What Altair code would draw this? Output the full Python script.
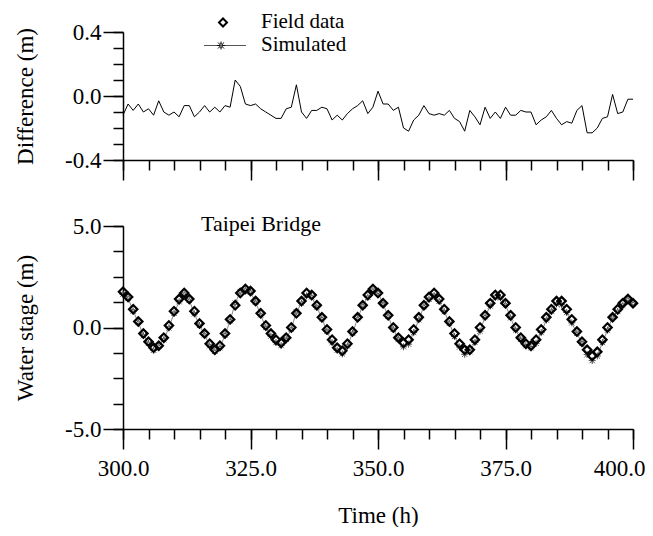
import altair as alt
import pandas as pd

# ---------------- data ----------------
hours = list(range(300, 401))

difference = [
    -0.12, -0.05, -0.09, -0.05, -0.10, -0.08, -0.12, -0.03, -0.10, -0.12,
    -0.10, -0.13, -0.06, -0.06, -0.13, -0.10, -0.06, -0.10, -0.07, -0.10,
    -0.06, -0.07, 0.10, 0.06, -0.05, -0.06, -0.05, -0.08, -0.10, -0.12,
    -0.14, -0.14, -0.08, -0.07, 0.07, -0.10, -0.14, -0.09, -0.09, -0.07,
    -0.08, -0.15, -0.12, -0.15, -0.11, -0.08, -0.06, -0.03, -0.11, -0.07,
    0.03, -0.05, -0.05, -0.09, -0.07, -0.20, -0.22, -0.15, -0.12, -0.06,
    -0.11, -0.12, -0.11, -0.12, -0.09, -0.14, -0.16, -0.22, -0.09, -0.13,
    -0.18, -0.07, -0.14, -0.10, -0.14, -0.07, -0.12, -0.12, -0.09, -0.10,
    -0.10, -0.18, -0.15, -0.13, -0.09, -0.14, -0.18, -0.16, -0.17, -0.09,
    -0.06, -0.23, -0.23, -0.20, -0.14, -0.13, 0.01, -0.11, -0.10, -0.02,
    -0.02,
]

field_stage = [
    1.76, 1.50, 0.90, 0.30, -0.30, -0.70, -1.00, -0.90, -0.50, 0.10,
    0.80, 1.40, 1.70, 1.40, 0.80, 0.20, -0.30, -0.80, -1.10, -0.90,
    -0.30, 0.40, 1.10, 1.70, 1.90, 1.80, 1.30, 0.70, 0.10, -0.30,
    -0.60, -0.75, -0.50, 0.00, 0.70, 1.30, 1.70, 1.60, 1.10, 0.50,
    -0.10, -0.60, -1.00, -1.15, -0.80, -0.20, 0.50, 1.10, 1.60, 1.90,
    1.70, 1.20, 0.60, 0.00, -0.50, -0.75, -0.60, -0.10, 0.50, 1.10,
    1.50, 1.70, 1.40, 0.90, 0.30, -0.30, -0.80, -1.10, -1.10, -0.60,
    0.00, 0.60, 1.20, 1.60, 1.60, 1.20, 0.60, 0.00, -0.50, -0.80,
    -0.90, -0.60, -0.10, 0.50, 0.90, 1.30, 1.30, 0.90, 0.40, -0.20,
    -0.70, -1.10, -1.40, -1.20, -0.60, 0.00, 0.50, 0.90, 1.20, 1.40,
    1.20,
]

simulated_stage = [
    1.64, 1.45, 0.81, 0.25, -0.40, -0.78, -1.12, -0.93, -0.60, -0.02,
    0.70, 1.27, 1.64, 1.34, 0.67, 0.10, -0.36, -0.90, -1.17, -1.00,
    -0.36, 0.33, 1.20, 1.76, 1.85, 1.74, 1.25, 0.62, 0.00, -0.42,
    -0.74, -0.89, -0.58, -0.07, 0.77, 1.20, 1.56, 1.51, 1.01, 0.43,
    -0.18, -0.75, -1.12, -1.30, -0.91, -0.28, 0.44, 1.07, 1.49, 1.83,
    1.73, 1.15, 0.55, -0.09, -0.57, -0.95, -0.82, -0.25, 0.38, 1.04,
    1.39, 1.58, 1.29, 0.78, 0.21, -0.44, -0.96, -1.32, -1.19, -0.73,
    -0.18, 0.53, 1.06, 1.50, 1.46, 1.13, 0.48, -0.12, -0.59, -0.90,
    -1.00, -0.78, -0.25, 0.37, 0.81, 1.16, 1.12, 0.74, 0.23, -0.29,
    -0.76, -1.33, -1.63, -1.40, -0.74, -0.13, 0.51, 0.79, 1.10, 1.38,
    1.18,
]

time_major = [300, 325, 350, 375, 400]
time_minor = [300, 305, 310, 315, 320, 325, 330, 335, 340, 345, 350,
              355, 360, 365, 370, 375, 380, 385, 390, 395, 400]
diff_major = [-0.4, 0.0, 0.4]
diff_minor = [-0.4, -0.3, -0.2, -0.1, 0.0, 0.1, 0.2, 0.3, 0.4]
stage_major = [-5.0, 0.0, 5.0]
stage_minor = [-5.0, -3.75, -2.5, -1.25, 0.0, 1.25, 2.5, 3.75, 5.0]

legend_labels = ["Field data", "Simulated"]
station_name = "Taipei Bridge"

# ---------------- styling ----------------
FONT = "Liberation Serif"
TICK_FS = 23
SIGNED = "(datum.value < 0 ? '-' : '') + format(abs(datum.value), '.1f')"
STAR = ("M0.42,0A0.42,0.42,0,1,1,-0.42,0A0.42,0.42,0,1,1,0.42,0Z"
        "M0,-1L0,-0.42M0,0.42L0,1M-1,0L-0.42,0M0.42,0L1,0"
        "M-0.75,-0.75L-0.3,-0.3M0.3,0.3L0.75,0.75"
        "M-0.75,0.75L-0.3,0.3M0.3,-0.3L0.75,-0.75")

common = dict(grid=False, domainColor="black", domainWidth=1.5,
              tickColor="black", tickWidth=1.5, labelFont=FONT,
              labelFontSize=TICK_FS, labelColor="black", labelFlush=False,
              labelOverlap=False, titleFont=FONT, titleFontSize=23,
              titleFontWeight="normal", titleColor="black")


def major_axis(values, orient, **kw):
    return alt.Axis(values=values, tickSize=20, orient=orient, **common, **kw)


def minor_axis(values, orient):
    return alt.Axis(values=values, tickSize=10, labels=False, domain=False,
                    title=None, orient=orient, **common)


df = pd.DataFrame({"t": hours, "diff": difference,
                   "field": field_stage, "sim": simulated_stage})

xs = alt.Scale(domain=[300, 400], nice=False, zero=False)
ys_top = alt.Scale(domain=[-0.4, 0.4], nice=False, zero=False)
ys_bot = alt.Scale(domain=[-5, 5], nice=False, zero=False)

base = alt.Chart(df)

# ---------------- top panel ----------------
diff_line = base.mark_line(color="black", strokeWidth=1).encode(
    x=alt.X("t:Q", scale=xs,
            axis=major_axis(time_major, "bottom", labels=False, title=None)),
    y=alt.Y("diff:Q", scale=ys_top,
            axis=major_axis(diff_major, "left", labelExpr=SIGNED,
                            labelPadding=2, title="Difference (m)",
                            titleX=-98, titleBaseline="middle")),
)
diff_minor_layer = base.mark_point(opacity=0).encode(
    x=alt.X("t:Q", scale=xs, axis=minor_axis(time_minor, "bottom")),
    y=alt.Y("diff:Q", scale=ys_top, axis=minor_axis(diff_minor, "left")),
)

leg_df = pd.DataFrame({"label": legend_labels})
leg_diamond = alt.Chart(leg_df).transform_filter(
    alt.datum.label == legend_labels[0]
).mark_point(shape="diamond", filled=False, size=64, strokeWidth=2,
             opacity=1, color="black").encode(x=alt.value(100),
                                             y=alt.value(-9.5))
leg_line = alt.Chart(leg_df).transform_filter(
    alt.datum.label == legend_labels[1]
).mark_rule(color="#555555", strokeWidth=1).encode(
    x=alt.value(81), x2=alt.value(123), y=alt.value(13.5))
leg_star = alt.Chart(leg_df).transform_filter(
    alt.datum.label == legend_labels[1]
).mark_point(shape=STAR, filled=False, size=64, strokeWidth=1, opacity=1,
             color="black").encode(x=alt.value(98), y=alt.value(13.5))
leg_text1 = alt.Chart(leg_df).transform_filter(
    alt.datum.label == legend_labels[0]
).mark_text(align="left", baseline="alphabetic", font=FONT, fontSize=21,
            color="black").encode(x=alt.value(138), y=alt.value(-4),
                                  text="label:N")
leg_text2 = alt.Chart(leg_df).transform_filter(
    alt.datum.label == legend_labels[1]
).mark_text(align="left", baseline="alphabetic", font=FONT, fontSize=21,
            color="black").encode(x=alt.value(138), y=alt.value(18.5),
                                  text="label:N")

top = alt.layer(
    diff_line, diff_minor_layer, leg_diamond, leg_line, leg_star,
    leg_text1, leg_text2
).resolve_axis(x="independent", y="independent").properties(
    width=510, height=128)

# ---------------- bottom panel ----------------
sim_line = base.mark_line(color="#888888", strokeWidth=1).encode(
    x=alt.X("t:Q", scale=xs,
            axis=major_axis(
                time_major, "bottom",
                labelExpr="format(datum.value, '.1f')",
                labelAlign={"condition": {"test": "datum.value === 400",
                                          "value": "right"},
                            "value": "center"},
                labelOffset={"condition": {"test": "datum.value === 400",
                                           "value": 12},
                             "value": 0},
                labelPadding=8, title="Time (h)", titleY=86,
                titleBaseline="middle")),
    y=alt.Y("sim:Q", scale=ys_bot,
            axis=major_axis(stage_major, "left", labelExpr=SIGNED,
                            labelPadding=2, title="Water stage (m)",
                            titleX=-98, titleBaseline="middle")),
)
sim_pts = base.mark_point(shape=STAR, filled=False, size=49, strokeWidth=1,
                          opacity=1, color="#555555").encode(
    x=alt.X("t:Q", scale=xs, axis=None),
    y=alt.Y("sim:Q", scale=ys_bot, axis=None),
)
field_pts = base.mark_point(shape="diamond", filled=False, size=70,
                            strokeWidth=2.2, opacity=1, color="black").encode(
    x=alt.X("t:Q", scale=xs, axis=None),
    y=alt.Y("field:Q", scale=ys_bot, axis=None),
)
stage_minor_layer = base.mark_point(opacity=0).encode(
    x=alt.X("t:Q", scale=xs, axis=minor_axis(time_minor, "bottom")),
    y=alt.Y("field:Q", scale=ys_bot, axis=minor_axis(stage_minor, "left")),
)
station = alt.Chart(pd.DataFrame({"name": [station_name]})).mark_text(
    align="left", baseline="alphabetic", font=FONT, fontSize=22,
    color="black").encode(x=alt.value(78), y=alt.value(5), text="name:N")

bottom = alt.layer(
    sim_line, sim_pts, field_pts, stage_minor_layer, station
).resolve_axis(x="independent", y="independent").properties(
    width=510, height=203)

chart = alt.vconcat(top, bottom, spacing=66, bounds="flush").properties(
    padding={"left": 5, "top": 3, "right": 0, "bottom": 0}
).configure_view(stroke=None)

chart.save("out.html", embed_options={"renderer": "svg", "actions": False})
